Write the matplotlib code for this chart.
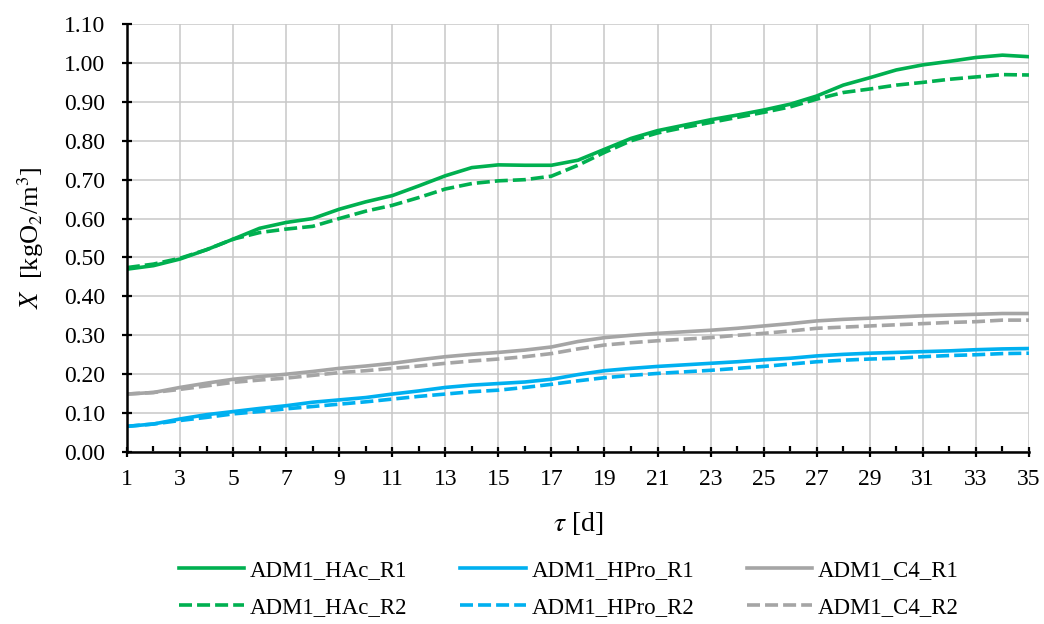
import numpy as np
import matplotlib
matplotlib.use("Agg")
import matplotlib.pyplot as plt
from matplotlib.ticker import MultipleLocator, FormatStrFormatter

plt.rcParams['font.family'] = ['Liberation Serif', 'DejaVu Serif']
plt.rcParams['mathtext.fontset'] = 'stix'

# ---------------------- Data ----------------------
days = list(range(1, 36))

hac_r1 = [0.470, 0.479, 0.496, 0.520, 0.547, 0.575, 0.590, 0.600, 0.624, 0.643,
          0.659, 0.684, 0.710, 0.731, 0.738, 0.737, 0.737, 0.750, 0.778, 0.806,
          0.826, 0.840, 0.854, 0.866, 0.879, 0.894, 0.915, 0.943, 0.962, 0.982,
          0.995, 1.004, 1.014, 1.020, 1.016]
hac_r2 = [0.474, 0.483, 0.498, 0.520, 0.547, 0.564, 0.573, 0.580, 0.600, 0.619,
          0.634, 0.654, 0.676, 0.690, 0.697, 0.700, 0.709, 0.737, 0.770, 0.800,
          0.820, 0.834, 0.847, 0.860, 0.873, 0.887, 0.907, 0.924, 0.933, 0.943,
          0.950, 0.958, 0.964, 0.970, 0.969]
hpro_r1 = [0.066, 0.072, 0.085, 0.096, 0.104, 0.112, 0.119, 0.128, 0.134, 0.140,
           0.149, 0.157, 0.166, 0.172, 0.176, 0.180, 0.187, 0.199, 0.209, 0.215,
           0.220, 0.224, 0.228, 0.232, 0.237, 0.241, 0.247, 0.251, 0.254, 0.256,
           0.258, 0.260, 0.263, 0.265, 0.266]
hpro_r2 = [0.066, 0.072, 0.081, 0.089, 0.098, 0.104, 0.111, 0.117, 0.123, 0.129,
           0.136, 0.143, 0.149, 0.155, 0.159, 0.166, 0.174, 0.183, 0.191, 0.197,
           0.202, 0.206, 0.210, 0.215, 0.220, 0.226, 0.232, 0.236, 0.239, 0.241,
           0.245, 0.248, 0.250, 0.253, 0.254]
c4_r1 = [0.149, 0.153, 0.166, 0.177, 0.187, 0.194, 0.200, 0.207, 0.215, 0.221,
         0.228, 0.237, 0.245, 0.251, 0.256, 0.262, 0.270, 0.284, 0.294, 0.300,
         0.305, 0.309, 0.313, 0.318, 0.324, 0.330, 0.337, 0.341, 0.344, 0.347,
         0.350, 0.352, 0.354, 0.356, 0.356]
c4_r2 = [0.149, 0.153, 0.161, 0.170, 0.179, 0.185, 0.190, 0.197, 0.204, 0.209,
         0.215, 0.221, 0.228, 0.234, 0.239, 0.245, 0.253, 0.265, 0.275, 0.281,
         0.286, 0.290, 0.294, 0.300, 0.305, 0.311, 0.318, 0.321, 0.324, 0.327,
         0.330, 0.333, 0.335, 0.339, 0.339]

x_ticks = list(range(1, 36, 2))

series = [
    ("ADM1_HAc_R1", hac_r1, "#00B050", "-"),
    ("ADM1_HAc_R2", hac_r2, "#00B050", "--"),
    ("ADM1_HPro_R1", hpro_r1, "#00B0F0", "-"),
    ("ADM1_HPro_R2", hpro_r2, "#00B0F0", "--"),
    ("ADM1_C4_R1", c4_r1, "#A5A5A5", "-"),
    ("ADM1_C4_R2", c4_r2, "#A5A5A5", "--"),
]

# ---------------------- Plot ----------------------
fig = plt.figure(figsize=(10.44, 6.24), dpi=100)
ax = fig.add_axes([0.1216, 0.2756, 0.864, 0.6859])

for label, vals, color, ls in series:
    if ls == "--":
        ax.plot(days, vals, color=color, linewidth=2.6, label=label, dashes=(3.6, 1.4))
    else:
        ax.plot(days, vals, color=color, linewidth=2.6, label=label)

ax.set_xlim(1, 35)
ax.set_ylim(0, 1.10)
ax.set_xticks(x_ticks)
ax.xaxis.set_minor_locator(MultipleLocator(1))
ax.yaxis.set_major_locator(MultipleLocator(0.1))
ax.yaxis.set_major_formatter(FormatStrFormatter("%.2f"))

ax.grid(True, which="major", color="#C8C8C8", linewidth=1.1)
ax.set_axisbelow(True)
for side in ["top", "right"]:
    ax.spines[side].set_visible(False)
for side in ["left", "bottom"]:
    ax.spines[side].set_linewidth(1.8)
    ax.spines[side].set_zorder(5)

ax.tick_params(axis="both", which="major", direction="inout", length=7, width=1.6,
               labelsize=17)
ax.tick_params(axis="y", which="major", pad=12)
ax.tick_params(axis="x", which="major", pad=9)
ax.tick_params(axis="x", which="minor", direction="in", length=4.5, width=1.6)

ax.set_xlabel(r"$\tau$ [d]", fontsize=20, labelpad=14)
ax.set_ylabel(r"$X$  [kgO$_2$/m$^3$]", fontsize=19, labelpad=13)

ax.legend(loc="upper center", bbox_to_anchor=(0.49, -0.205), ncol=3, frameon=False,
          fontsize=16.5, handlelength=2.85, handletextpad=0.26, columnspacing=2.3,
          labelspacing=0.7)

plt.savefig("out.png", dpi=100)
